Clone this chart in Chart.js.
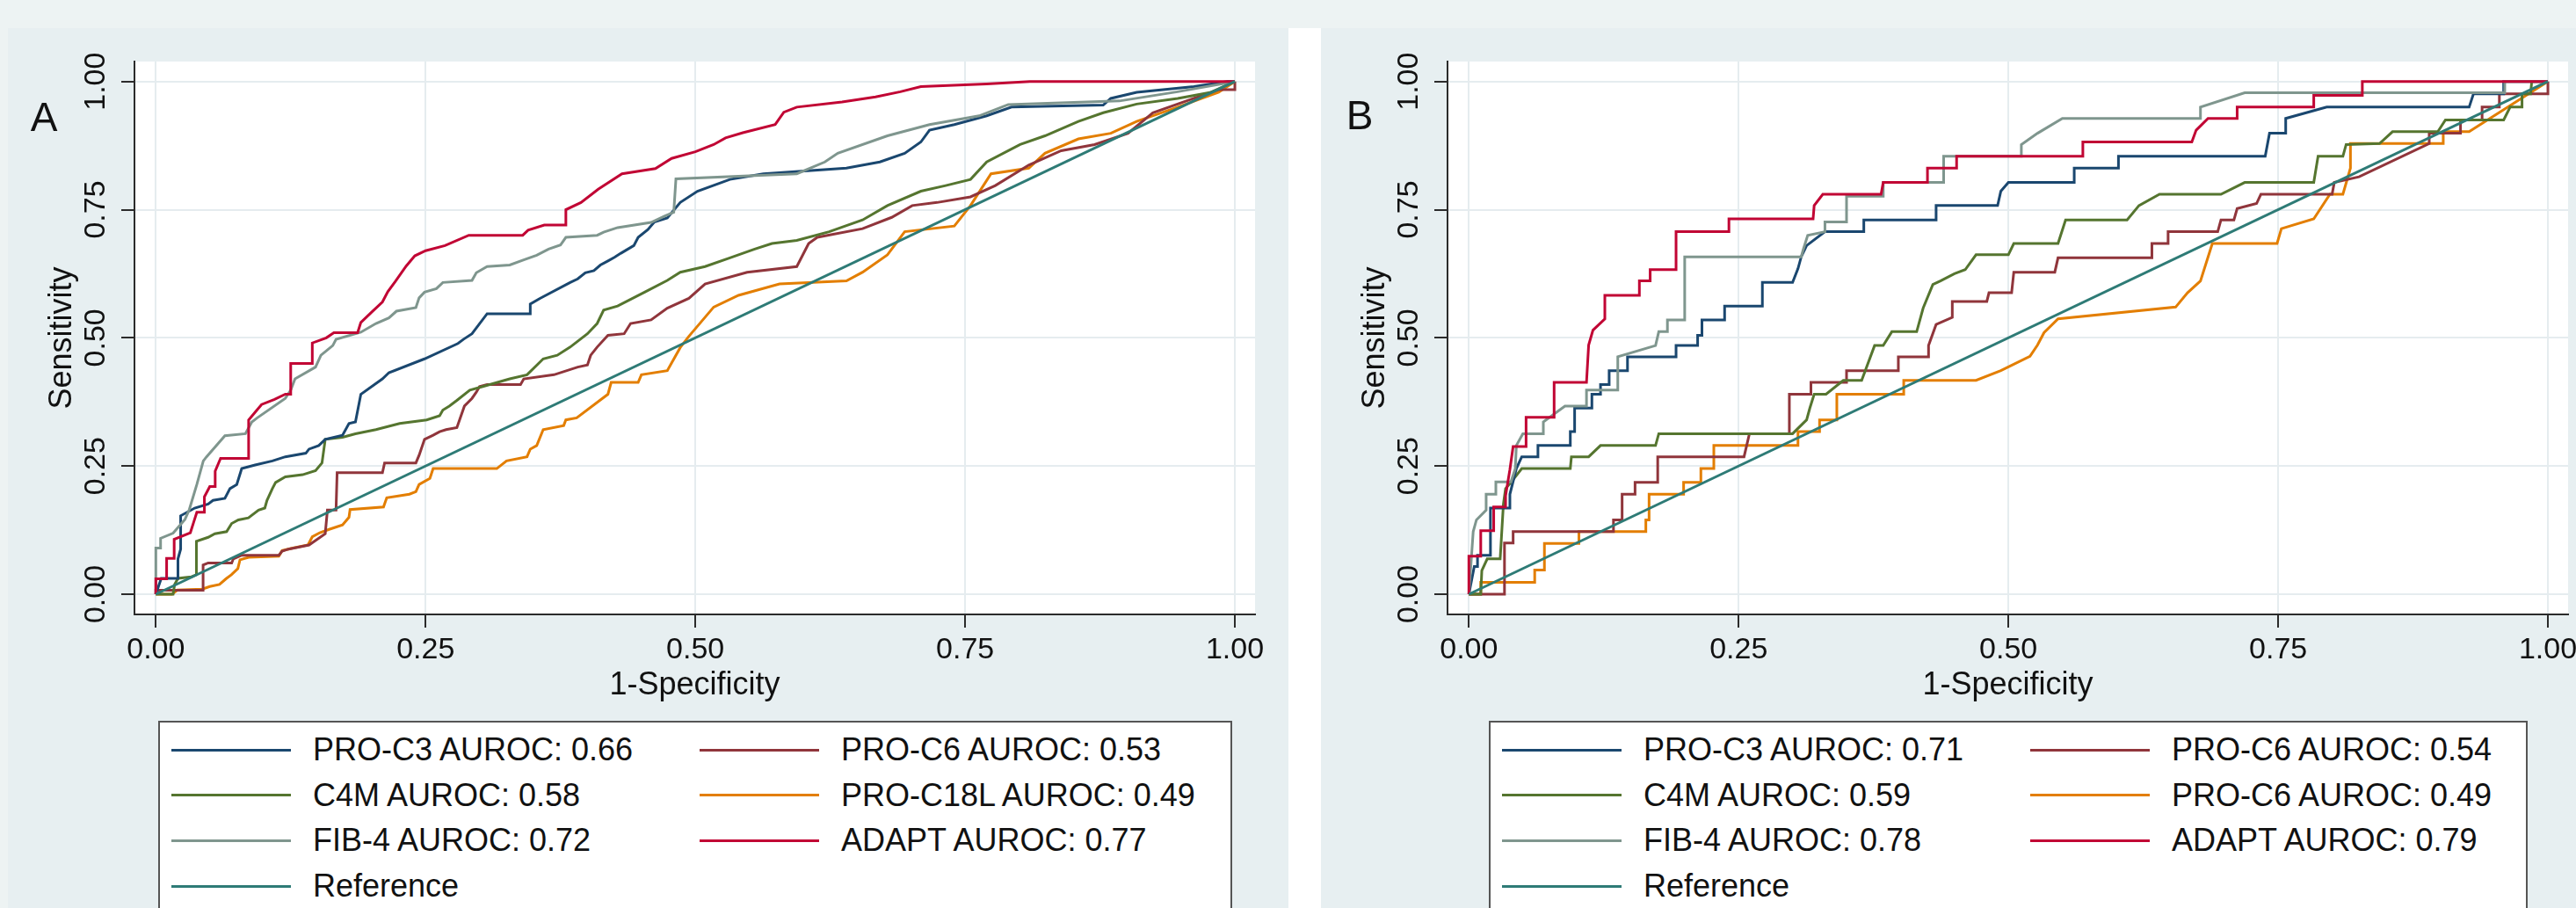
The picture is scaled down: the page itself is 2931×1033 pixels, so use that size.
<!DOCTYPE html>
<html>
<head>
<meta charset="utf-8">
<script src="https://cdn.jsdelivr.net/npm/chart.js@4.4.1/dist/chart.umd.min.js"></script>
<style>
  html, body { margin: 0; padding: 0; width: 2931px; height: 1033px; overflow: hidden;
    background: #edf3f3; font-family: "Liberation Sans", Arial, sans-serif; }
  .panel { position: absolute; top: 32px; height: 1001px; background: #e7eff1; overflow: hidden; }
  #panelA { left: 9px; width: 1457px; }
  #panelB { left: 1503px; width: 1428px; }
  #gap { position: absolute; left: 1466px; top: 32px; width: 37px; height: 1001px; background: #fff; }
  canvas { position: absolute; left: 0; top: 0; }
  .tag { position: absolute; font-size: 46px; line-height: 1; color: #111; transform: translate(-50%, -50%); }
  .legend { position: absolute; top: 788px; height: 260px; background: #fff; border: 2px solid #555; box-sizing: border-box; }
  .item { position: absolute; height: 0; }
  .item i { position: absolute; left: 0; top: -1.5px; width: 136px; height: 3px; }
  .item span { position: absolute; left: 161px; top: -21px; font-size: 36px; line-height: 42px; white-space: nowrap; color: #111; }
</style>
</head>
<body>
<div id="gap"></div>
<div class="panel" id="panelA">
  <canvas id="chartA" width="1457" height="788"></canvas>
  <div class="tag" style="left:41px;top:101px">A</div>
  <div class="legend" id="legendA" style="left:171px;width:1222px"></div>
</div>
<div class="panel" id="panelB">
  <canvas id="chartB" width="1457" height="788"></canvas>
  <div class="tag" style="left:44px;top:99px">B</div>
  <div class="legend" id="legendB" style="left:191px;width:1182px"></div>
</div>
<script>
// ---- data ----
const tickValues = [0, 0.25, 0.5, 0.75, 1];
const markerNames = ['PRO-C3', 'PRO-C6', 'C4M', 'PRO-C18L', 'FIB-4', 'ADAPT'];
const markerNamesB = ['PRO-C3', 'PRO-C6', 'C4M', 'PRO-C6', 'FIB-4', 'ADAPT'];
const aurocA = [0.66, 0.53, 0.58, 0.49, 0.72, 0.77];
const aurocB = [0.71, 0.54, 0.59, 0.49, 0.78, 0.79];
const refX = [0, 1];
const refY = [0, 1];

// panel A
const aPROC3x = [0,0.005,0.0205,0.0205,0.023,0.023,0.036,0.0485,0.053,0.064,0.0687,0.075,0.0796,0.092,0.108,0.12,0.139,0.142,0.151,0.157,0.173,0.179,0.185,0.19,0.21,0.216,0.249,0.28,0.285,0.293,0.307,0.347,0.347,0.356,0.384,0.391,0.398,0.406,0.412,0.419,0.425,0.431,0.443,0.447,0.456,0.462,0.474,0.486,0.502,0.532,0.563,0.64,0.671,0.694,0.709,0.717,0.74,0.77,0.793,0.878,0.885,0.909,0.962,0.993,1];
const aPROC3y = [0,0.031,0.031,0.069,0.088,0.153,0.168,0.176,0.183,0.187,0.206,0.214,0.245,0.252,0.26,0.268,0.275,0.283,0.29,0.302,0.31,0.333,0.336,0.39,0.42,0.432,0.459,0.489,0.497,0.508,0.547,0.547,0.566,0.577,0.608,0.615,0.627,0.631,0.642,0.65,0.657,0.665,0.68,0.696,0.711,0.726,0.734,0.764,0.786,0.809,0.82,0.831,0.843,0.86,0.882,0.905,0.916,0.933,0.95,0.954,0.967,0.979,0.99,1,1];
const aPROC6x = [0,0,0.0438,0.0438,0.0485,0.0703,0.0718,0.0796,0.114,0.117,0.123,0.142,0.157,0.159,0.167,0.168,0.21,0.212,0.241,0.244,0.249,0.257,0.263,0.269,0.279,0.286,0.293,0.297,0.3,0.307,0.338,0.341,0.369,0.391,0.4,0.403,0.409,0.419,0.434,0.44,0.459,0.474,0.494,0.509,0.548,0.594,0.605,0.613,0.655,0.682,0.701,0.724,0.755,0.778,0.809,0.839,0.87,0.901,0.924,0.955,0.985,1,1];
const aPROC6y = [0,0.0076,0.0076,0.057,0.061,0.061,0.069,0.076,0.076,0.084,0.088,0.096,0.118,0.164,0.164,0.237,0.237,0.256,0.256,0.271,0.302,0.31,0.317,0.321,0.325,0.367,0.382,0.394,0.405,0.409,0.409,0.42,0.428,0.443,0.447,0.466,0.482,0.505,0.508,0.528,0.535,0.558,0.577,0.605,0.628,0.639,0.684,0.696,0.713,0.735,0.758,0.764,0.775,0.797,0.837,0.865,0.877,0.899,0.939,0.962,0.984,0.984,1];
const aC4Mx = [0,0.016,0.0174,0.0205,0.033,0.0376,0.0376,0.0485,0.0547,0.0656,0.0703,0.0765,0.0858,0.0952,0.101,0.103,0.108,0.111,0.12,0.136,0.148,0.154,0.157,0.173,0.185,0.204,0.226,0.251,0.263,0.266,0.272,0.279,0.291,0.303,0.328,0.344,0.359,0.372,0.384,0.4,0.409,0.415,0.428,0.453,0.474,0.486,0.509,0.532,0.555,0.571,0.594,0.624,0.655,0.678,0.709,0.732,0.755,0.77,0.801,0.824,0.855,0.878,0.909,0.947,0.978,1];
const aC4My = [0,0,0.019,0.031,0.034,0.038,0.103,0.111,0.118,0.122,0.138,0.145,0.149,0.164,0.168,0.183,0.206,0.218,0.229,0.233,0.241,0.256,0.302,0.306,0.313,0.321,0.333,0.34,0.348,0.359,0.367,0.378,0.398,0.405,0.42,0.428,0.459,0.466,0.482,0.508,0.528,0.554,0.562,0.589,0.612,0.628,0.639,0.656,0.673,0.684,0.69,0.707,0.73,0.758,0.786,0.797,0.809,0.843,0.877,0.894,0.922,0.939,0.956,0.967,0.979,1];
const aPROC18Lx = [0,0.015,0.02,0.043,0.05,0.059,0.065,0.07,0.076,0.078,0.086,0.114,0.117,0.127,0.141,0.145,0.152,0.16,0.173,0.179,0.18,0.211,0.214,0.235,0.241,0.244,0.254,0.257,0.316,0.325,0.344,0.347,0.353,0.359,0.378,0.38,0.39,0.419,0.422,0.447,0.45,0.474,0.486,0.494,0.517,0.54,0.578,0.64,0.655,0.678,0.694,0.74,0.755,0.774,0.809,0.824,0.855,0.885,0.909,0.947,0.985,1];
const aPROC18Ly = [0,0,0.008,0.01,0.015,0.019,0.03,0.038,0.05,0.067,0.072,0.074,0.085,0.09,0.096,0.112,0.12,0.126,0.135,0.15,0.165,0.17,0.188,0.195,0.2,0.214,0.226,0.245,0.245,0.26,0.268,0.283,0.29,0.321,0.329,0.34,0.344,0.39,0.413,0.413,0.428,0.436,0.481,0.503,0.56,0.583,0.605,0.611,0.628,0.662,0.707,0.718,0.758,0.82,0.831,0.86,0.888,0.899,0.922,0.95,0.979,1];
const aFIB4x = [0,0,0.0044,0.0044,0.016,0.027,0.031,0.038,0.044,0.047,0.064,0.083,0.089,0.094,0.12,0.125,0.129,0.148,0.153,0.164,0.167,0.19,0.204,0.216,0.223,0.241,0.244,0.249,0.26,0.266,0.293,0.297,0.307,0.328,0.341,0.353,0.364,0.375,0.38,0.409,0.415,0.428,0.459,0.471,0.48,0.482,0.594,0.62,0.632,0.678,0.717,0.763,0.79,0.893,0.947,1];
const aFIB4y = [0,0.09,0.09,0.109,0.119,0.146,0.165,0.214,0.26,0.268,0.309,0.313,0.336,0.344,0.382,0.398,0.42,0.443,0.466,0.485,0.497,0.511,0.528,0.539,0.552,0.559,0.578,0.589,0.596,0.608,0.612,0.627,0.639,0.642,0.652,0.661,0.673,0.681,0.696,0.7,0.706,0.715,0.725,0.737,0.745,0.81,0.82,0.843,0.86,0.894,0.916,0.933,0.955,0.962,0.98,1];
const aADAPTx = [0,0,0.01,0.01,0.017,0.017,0.032,0.035,0.038,0.045,0.045,0.05,0.055,0.055,0.06,0.086,0.086,0.092,0.098,0.11,0.12,0.125,0.125,0.145,0.145,0.158,0.165,0.187,0.19,0.2,0.21,0.215,0.222,0.232,0.24,0.25,0.268,0.29,0.34,0.345,0.36,0.38,0.38,0.394,0.41,0.432,0.463,0.478,0.5,0.517,0.528,0.544,0.574,0.582,0.594,0.636,0.667,0.69,0.709,0.77,0.81,1];
const aADAPTy = [0,0.03,0.03,0.07,0.07,0.107,0.12,0.14,0.16,0.16,0.19,0.21,0.21,0.24,0.265,0.265,0.34,0.355,0.37,0.38,0.39,0.39,0.45,0.45,0.49,0.5,0.51,0.51,0.53,0.55,0.57,0.59,0.61,0.64,0.66,0.67,0.68,0.7,0.7,0.71,0.72,0.72,0.75,0.764,0.79,0.82,0.83,0.85,0.863,0.877,0.89,0.9,0.916,0.94,0.95,0.96,0.97,0.98,0.99,0.995,1,1];

// panel B
const bPROC3x = [0,0.005,0.008,0.008,0.02,0.02,0.038,0.038,0.044,0.049,0.064,0.064,0.094,0.094,0.098,0.098,0.114,0.114,0.122,0.122,0.13,0.13,0.147,0.147,0.192,0.192,0.212,0.212,0.216,0.216,0.237,0.237,0.272,0.272,0.3,0.305,0.308,0.313,0.33,0.366,0.366,0.433,0.433,0.49,0.493,0.5,0.561,0.561,0.602,0.602,0.738,0.742,0.757,0.757,0.795,0.927,0.931,0.959,0.959,1];
const bPROC3y = [0,0.054,0.054,0.076,0.076,0.168,0.168,0.195,0.245,0.268,0.268,0.29,0.29,0.317,0.317,0.363,0.363,0.39,0.39,0.409,0.409,0.436,0.436,0.463,0.463,0.485,0.485,0.505,0.505,0.535,0.535,0.562,0.562,0.608,0.608,0.635,0.658,0.68,0.707,0.707,0.73,0.73,0.758,0.758,0.786,0.803,0.803,0.831,0.831,0.854,0.854,0.899,0.899,0.928,0.95,0.95,0.976,0.976,1,1];
const bPROC6x = [0,0.033,0.033,0.041,0.041,0.134,0.134,0.142,0.142,0.154,0.154,0.175,0.175,0.255,0.26,0.297,0.297,0.317,0.317,0.35,0.35,0.398,0.398,0.426,0.426,0.433,0.448,0.448,0.48,0.482,0.503,0.505,0.543,0.546,0.633,0.633,0.648,0.648,0.694,0.697,0.709,0.712,0.73,0.734,0.8,0.802,0.825,0.89,0.89,0.919,0.919,0.939,0.939,0.955,0.955,1,1];
const bPROC6y = [0,0,0.1,0.1,0.122,0.122,0.145,0.145,0.195,0.195,0.218,0.218,0.268,0.268,0.313,0.313,0.39,0.39,0.413,0.413,0.436,0.436,0.463,0.463,0.485,0.526,0.54,0.571,0.571,0.588,0.588,0.628,0.628,0.656,0.656,0.684,0.684,0.707,0.707,0.73,0.73,0.752,0.762,0.78,0.78,0.803,0.814,0.879,0.899,0.899,0.925,0.925,0.95,0.95,0.976,0.976,1];
const bC4Mx = [0,0.011,0.012,0.017,0.029,0.032,0.034,0.039,0.049,0.094,0.095,0.111,0.122,0.173,0.176,0.3,0.313,0.316,0.32,0.331,0.347,0.364,0.376,0.384,0.392,0.415,0.421,0.43,0.437,0.45,0.46,0.47,0.5,0.505,0.546,0.553,0.61,0.621,0.64,0.697,0.719,0.783,0.787,0.81,0.813,0.844,0.856,0.898,0.905,0.959,0.965,0.976,0.976,0.984,0.985,1];
const bC4My = [0,0,0.046,0.069,0.069,0.176,0.206,0.218,0.245,0.245,0.268,0.268,0.29,0.29,0.313,0.313,0.34,0.363,0.39,0.39,0.417,0.417,0.485,0.485,0.512,0.512,0.558,0.604,0.611,0.625,0.633,0.662,0.662,0.684,0.684,0.73,0.73,0.758,0.78,0.78,0.803,0.803,0.854,0.854,0.877,0.879,0.902,0.902,0.925,0.925,0.95,0.95,0.976,0.976,1,1];
const bPROC18Lx = [0,0.011,0.011,0.061,0.061,0.07,0.07,0.102,0.102,0.164,0.164,0.167,0.167,0.199,0.199,0.215,0.215,0.227,0.227,0.305,0.305,0.325,0.325,0.341,0.341,0.403,0.403,0.47,0.493,0.52,0.527,0.533,0.546,0.655,0.666,0.678,0.689,0.749,0.753,0.783,0.798,0.81,0.817,0.817,0.903,0.903,0.927,1];
const bPROC18Ly = [0,0,0.023,0.023,0.047,0.047,0.099,0.099,0.122,0.122,0.145,0.145,0.195,0.195,0.218,0.218,0.245,0.245,0.29,0.29,0.317,0.317,0.34,0.34,0.39,0.39,0.417,0.417,0.436,0.464,0.486,0.51,0.537,0.56,0.588,0.611,0.684,0.684,0.713,0.732,0.78,0.78,0.831,0.879,0.879,0.902,0.902,1];
const bFIB4x = [0,0.004,0.007,0.016,0.016,0.025,0.025,0.039,0.043,0.044,0.05,0.069,0.069,0.089,0.109,0.109,0.138,0.138,0.173,0.176,0.184,0.184,0.2,0.2,0.308,0.31,0.314,0.33,0.33,0.35,0.35,0.384,0.384,0.44,0.44,0.512,0.512,0.527,0.55,0.678,0.678,0.719,0.96,0.96,1];
const bFIB4y = [0,0.122,0.145,0.164,0.195,0.195,0.219,0.219,0.245,0.29,0.313,0.313,0.336,0.367,0.367,0.398,0.398,0.463,0.485,0.512,0.512,0.535,0.535,0.658,0.658,0.673,0.7,0.707,0.726,0.726,0.776,0.776,0.803,0.803,0.854,0.854,0.877,0.899,0.928,0.928,0.95,0.978,0.978,1,1];
const bADAPTx = [0,0,0.011,0.011,0.023,0.023,0.034,0.034,0.038,0.041,0.053,0.053,0.079,0.079,0.109,0.111,0.115,0.126,0.126,0.158,0.158,0.168,0.168,0.192,0.192,0.241,0.241,0.319,0.32,0.328,0.382,0.384,0.425,0.425,0.452,0.452,0.569,0.569,0.67,0.674,0.685,0.712,0.712,0.783,0.783,0.828,0.828,1];
const bADAPTy = [0,0.074,0.074,0.124,0.124,0.17,0.17,0.192,0.243,0.288,0.288,0.345,0.345,0.413,0.413,0.486,0.515,0.537,0.583,0.583,0.611,0.611,0.633,0.633,0.707,0.707,0.732,0.732,0.758,0.78,0.78,0.803,0.803,0.831,0.831,0.854,0.854,0.882,0.882,0.905,0.928,0.928,0.95,0.95,0.973,0.973,1,1];

// ---- styling ----
const seriesColors = ['#1a476f', '#90353b', '#55752f', '#e37e00', '#7f968e', '#c10534', '#2e7b76'];
const drawOrder = [2, 4, 3, 5, 1, 0, -1];
const FONT = '"Liberation Sans", Arial, Helvetica, sans-serif';

function pts(xs, ys) {
  const n = Math.min(xs.length, ys.length);
  const out = [];
  for (let i = 0; i < n; i++) out.push({ x: xs[i], y: ys[i] });
  return out;
}

const plotBg = {
  id: 'plotBg',
  beforeDraw(chart) {
    const { ctx, chartArea: a } = chart;
    ctx.save();
    ctx.fillStyle = '#ffffff';
    ctx.fillRect(a.left, a.top, a.right - a.left, a.bottom - a.top);
    ctx.restore();
  }
};

function axis(title, vertical) {
  return {
    type: 'linear',
    min: vertical ? -0.0394 : -0.0198,
    max: vertical ? 1.0389 : 1.0187,
    afterBuildTicks: s => { s.ticks = tickValues.map(v => ({ value: v })); },
    afterFit: s => { if (vertical) s.width = 144; else s.height = 121; },
    grid: { color: '#e5ecef', lineWidth: 2, tickColor: '#2b2b2b', tickLength: 15, tickWidth: 2 },
    border: { display: true, color: '#2b2b2b', width: 2 },
    ticks: {
      color: '#111', font: { family: FONT, size: 34 },
      padding: vertical ? -5 : 5,
      minRotation: vertical ? 90 : 0, maxRotation: vertical ? 90 : 0,
      crossAlign: vertical ? 'center' : 'near',
      callback: v => Number(v).toFixed(2)
    },
    title: {
      display: true, text: title, color: '#111', font: { family: FONT, size: 36 },
      padding: vertical ? { top: 40, bottom: 0 } : { top: 0, bottom: 18 }
    }
  };
}

function makeChart(canvasId, legendId, names, aurocs, series) {
  const datasets = series.map((s, i) => ({
    label: names[i] + ' AUROC: ' + aurocs[i].toFixed(2),
    data: pts(s[0], s[1]),
    borderColor: seriesColors[i],
    order: drawOrder[i]
  }));
  datasets.push({ label: 'Reference', data: pts(refX, refY), borderColor: seriesColors[6], order: drawOrder[6] });
  datasets.forEach(d => Object.assign(d, { showLine: true, pointRadius: 0, borderWidth: 3, fill: false, tension: 0 }));

  const chart = new Chart(document.getElementById(canvasId), {
    type: 'scatter',
    data: { datasets },
    options: {
      responsive: false,
      animation: false,
      layout: { padding: { top: 38, right: 38, left: 0, bottom: 0 } },
      plugins: { legend: { display: false }, tooltip: { enabled: false } },
      scales: { x: axis('1-Specificity', false), y: axis('Sensitivity', true) }
    },
    plugins: [plotBg]
  });

  // legend in two columns, row-major like the original
  const box = document.getElementById(legendId);
  chart.data.datasets.forEach((d, i) => {
    const it = document.createElement('div');
    it.className = 'item';
    it.style.left = (i % 2 === 0 ? 13 : 614) + 'px';
    it.style.top = (31 + Math.floor(i / 2) * 51.7) + 'px';
    const ln = document.createElement('i');
    ln.style.background = d.borderColor;
    const tx = document.createElement('span');
    tx.textContent = d.label;
    it.appendChild(ln);
    it.appendChild(tx);
    box.appendChild(it);
  });
  return chart;
}

makeChart('chartA', 'legendA', markerNames, aurocA, [
  [aPROC3x, aPROC3y], [aPROC6x, aPROC6y], [aC4Mx, aC4My],
  [aPROC18Lx, aPROC18Ly], [aFIB4x, aFIB4y], [aADAPTx, aADAPTy]
]);
makeChart('chartB', 'legendB', markerNamesB, aurocB, [
  [bPROC3x, bPROC3y], [bPROC6x, bPROC6y], [bC4Mx, bC4My],
  [bPROC18Lx, bPROC18Ly], [bFIB4x, bFIB4y], [bADAPTx, bADAPTy]
]);
</script>
</body>
</html>
